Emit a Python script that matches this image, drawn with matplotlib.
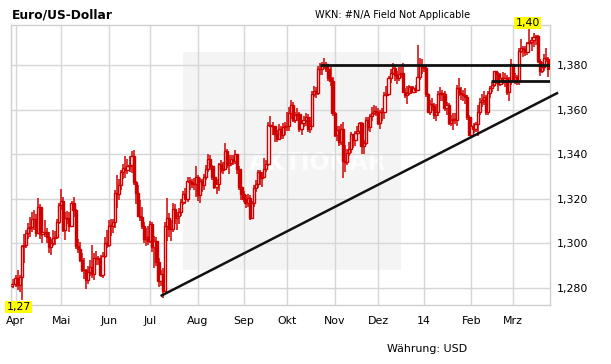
import numpy as np
import pandas as pd
import matplotlib
matplotlib.use("Agg")
import matplotlib.pyplot as plt
from matplotlib.patches import Rectangle

# ---------------- data (EUR/USD daily) ----------------
first_open = 1.2810
close = [
    # Mar 28-29 2013
    1.2818, 1.2820,
    # Apr
    1.2845, 1.2815, 1.2850, 1.2990, 1.2995, 1.3045, 1.3070, 1.3075, 1.3110, 1.3110,
    1.3045, 1.3165, 1.3040, 1.3050, 1.3050, 1.3030, 1.2985, 1.3000, 1.3025, 1.3030,
    1.3095, 1.3170,
    # May
    1.3190, 1.3060, 1.3115, 1.3110, 1.3080, 1.3180, 1.3150, 1.2990, 1.2975, 1.2925,
    1.2880, 1.2880, 1.2835, 1.2870, 1.2895, 1.2865, 1.2935, 1.2935, 1.2930, 1.2860,
    1.2945, 1.3000, 1.2995,
    # Jun
    1.3080, 1.3080, 1.3095, 1.3225, 1.3220, 1.3260, 1.3320, 1.3340, 1.3330, 1.3345,
    1.3350, 1.3390, 1.3275, 1.3225, 1.3125, 1.3120, 1.3080, 1.3020, 1.3030, 1.3010,
    # Jul
    1.3085, 1.2985, 1.3010, 1.2915, 1.2830, 1.2865, 1.2785, 1.3080, 1.3115, 1.3065,
    1.3065, 1.3155, 1.3115, 1.3125, 1.3140, 1.3185, 1.3220, 1.3200, 1.3280, 1.3275,
    1.3265, 1.3265, 1.3300,
    # Aug
    1.3215, 1.3280, 1.3260, 1.3300, 1.3335, 1.3380, 1.3345, 1.3300, 1.3255, 1.3265,
    1.3355, 1.3330, 1.3335, 1.3415, 1.3350, 1.3360, 1.3380, 1.3370, 1.3400, 1.3335,
    1.3255, 1.3220,
    # Sep
    1.3200, 1.3180, 1.3205, 1.3115, 1.3180, 1.3250, 1.3265, 1.3320, 1.3295, 1.3300,
    1.3335, 1.3355, 1.3530, 1.3525, 1.3525, 1.3490, 1.3470, 1.3515, 1.3485, 1.3520,
    1.3525,
    # Oct
    1.3525, 1.3585, 1.3620, 1.3555, 1.3575, 1.3580, 1.3515, 1.3540, 1.3555, 1.3565,
    1.3515, 1.3525, 1.3670, 1.3685, 1.3675, 1.3780, 1.3780, 1.3800, 1.3805, 1.3780,
    1.3740, 1.3730, 1.3585,
    # Nov
    1.3485, 1.3510, 1.3455, 1.3515, 1.3370, 1.3365, 1.3405, 1.3425, 1.3490, 1.3465,
    1.3495, 1.3505, 1.3540, 1.3435, 1.3450, 1.3555, 1.3520, 1.3570, 1.3585, 1.3595,
    1.3590,
    # Dec
    1.3540, 1.3590, 1.3590, 1.3665, 1.3670, 1.3740, 1.3765, 1.3785, 1.3755, 1.3740,
    1.3760, 1.3765, 1.3680, 1.3665, 1.3675, 1.3700, 1.3680, 1.3695, 1.3690, 1.3745,
    1.3800, 1.3790,
    # Jan 2014
    1.3785, 1.3670, 1.3590, 1.3625, 1.3615, 1.3575, 1.3590, 1.3670, 1.3675, 1.3670,
    1.3605, 1.3620, 1.3540, 1.3555, 1.3560, 1.3555, 1.3695, 1.3675, 1.3670, 1.3665,
    1.3655, 1.3565, 1.3485,
    # Feb
    1.3525, 1.3515, 1.3535, 1.3590, 1.3635, 1.3645, 1.3655, 1.3590, 1.3675, 1.3695,
    1.3710, 1.3775, 1.3760, 1.3715, 1.3740, 1.3735, 1.3740, 1.3680, 1.3730, 1.3805,
    # Mar
    1.3735, 1.3745, 1.3730, 1.3865, 1.3875, 1.3870, 1.3860, 1.3900, 1.3905, 1.3910,
    1.3925, 1.3930, 1.3820, 1.3775, 1.3790, 1.3830, 1.3825, 1.3780,
]
high = [
    1.2850, 1.2840,
    1.2860, 1.2880, 1.2860, 1.2995, 1.3040, 1.3060, 1.3090, 1.3120, 1.3140, 1.3150,
    1.3130, 1.3205, 1.3175, 1.3085, 1.3105, 1.3070, 1.3050, 1.3020, 1.3060, 1.3055,
    1.3110, 1.3180,
    1.3245, 1.3210, 1.3140, 1.3145, 1.3140, 1.3190, 1.3210, 1.3155, 1.3020, 1.3005,
    1.2955, 1.2935, 1.2885, 1.2900, 1.2925, 1.2995, 1.2955, 1.2965, 1.2945, 1.2950,
    1.2960, 1.3030, 1.3060,
    1.3105, 1.3110, 1.3110, 1.3240, 1.3305, 1.3290, 1.3330, 1.3355, 1.3390, 1.3380,
    1.3390, 1.3415, 1.3420, 1.3280, 1.3260, 1.3195, 1.3165, 1.3095, 1.3070, 1.3080,
    1.3100, 1.3095, 1.3035, 1.3030, 1.2935, 1.2880, 1.2890, 1.3095, 1.3205, 1.3135,
    1.3105, 1.3180, 1.3175, 1.3140, 1.3160, 1.3200, 1.3235, 1.3250, 1.3300, 1.3300,
    1.3290, 1.3295, 1.3345,
    1.3305, 1.3295, 1.3290, 1.3310, 1.3350, 1.3400, 1.3395, 1.3350, 1.3310, 1.3290,
    1.3360, 1.3375, 1.3365, 1.3450, 1.3425, 1.3395, 1.3395, 1.3395, 1.3420, 1.3395,
    1.3345, 1.3260,
    1.3235, 1.3215, 1.3220, 1.3215, 1.3190, 1.3260, 1.3285, 1.3330, 1.3330, 1.3320,
    1.3385, 1.3375, 1.3545, 1.3570, 1.3545, 1.3525, 1.3510, 1.3535, 1.3525, 1.3540,
    1.3545,
    1.3590, 1.3610, 1.3645, 1.3635, 1.3590, 1.3605, 1.3590, 1.3555, 1.3570, 1.3585,
    1.3580, 1.3565, 1.3685, 1.3705, 1.3700, 1.3795, 1.3810, 1.3815, 1.3830, 1.3815,
    1.3800, 1.3790, 1.3745,
    1.3590, 1.3525, 1.3525, 1.3535, 1.3545, 1.3440, 1.3425, 1.3455, 1.3500, 1.3490,
    1.3505, 1.3525, 1.3545, 1.3545, 1.3465, 1.3565, 1.3565, 1.3580, 1.3610, 1.3620,
    1.3615,
    1.3605, 1.3600, 1.3605, 1.3680, 1.3705, 1.3750, 1.3780, 1.3810, 1.3795, 1.3775,
    1.3790, 1.3790, 1.3810, 1.3695, 1.3705, 1.3710, 1.3705, 1.3705, 1.3710, 1.3890,
    1.3830, 1.3825,
    1.3795, 1.3795, 1.3675, 1.3645, 1.3650, 1.3630, 1.3625, 1.3685, 1.3700, 1.3690,
    1.3685, 1.3635, 1.3630, 1.3575, 1.3585, 1.3585, 1.3710, 1.3740, 1.3700, 1.3690,
    1.3695, 1.3665, 1.3575,
    1.3535, 1.3540, 1.3545, 1.3620, 1.3650, 1.3670, 1.3685, 1.3665, 1.3685, 1.3705,
    1.3725, 1.3775, 1.3775, 1.3770, 1.3765, 1.3770, 1.3765, 1.3755, 1.3745, 1.3825,
    1.3790, 1.3765, 1.3755, 1.3875, 1.3915, 1.3885, 1.3885, 1.3905, 1.3965, 1.3925,
    1.3945, 1.3935, 1.3935, 1.3825, 1.3815, 1.3850, 1.3875, 1.3835,
]
low = [
    1.2750, 1.2800,
    1.2805, 1.2790, 1.2780, 1.2745, 1.2910, 1.2980, 1.3020, 1.3030, 1.3050, 1.3060,
    1.3030, 1.3040, 1.3020, 1.3000, 1.3030, 1.3000, 1.2955, 1.2950, 1.2990, 1.2995,
    1.3020, 1.3085,
    1.3150, 1.3050, 1.3015, 1.3085, 1.3050, 1.3075, 1.3120, 1.2975, 1.2955, 1.2915,
    1.2870, 1.2840, 1.2795, 1.2820, 1.2855, 1.2845, 1.2835, 1.2905, 1.2905, 1.2850,
    1.2845, 1.2935, 1.2980,
    1.2985, 1.3035, 1.3045, 1.3070, 1.3160, 1.3195, 1.3240, 1.3290, 1.3295, 1.3310,
    1.3320, 1.3315, 1.3260, 1.3175, 1.3120, 1.3100, 1.3065, 1.3000, 1.2990, 1.2995,
    1.3000, 1.2960, 1.2890, 1.2900, 1.2805, 1.2810, 1.2755, 1.2780, 1.3010, 1.3030,
    1.3010, 1.3050, 1.3085, 1.3060, 1.3085, 1.3125, 1.3170, 1.3175, 1.3185, 1.3240,
    1.3250, 1.3240, 1.3210,
    1.3190, 1.3180, 1.3230, 1.3240, 1.3285, 1.3320, 1.3330, 1.3285, 1.3245, 1.3220,
    1.3235, 1.3315, 1.3310, 1.3330, 1.3340, 1.3310, 1.3345, 1.3350, 1.3355, 1.3310,
    1.3240, 1.3195,
    1.3185, 1.3160, 1.3165, 1.3105, 1.3110, 1.3165, 1.3230, 1.3250, 1.3260, 1.3255,
    1.3310, 1.3320, 1.3345, 1.3505, 1.3485, 1.3455, 1.3455, 1.3465, 1.3470, 1.3470,
    1.3485,
    1.3505, 1.3505, 1.3560, 1.3545, 1.3540, 1.3550, 1.3500, 1.3485, 1.3520, 1.3525,
    1.3500, 1.3495, 1.3525, 1.3655, 1.3650, 1.3665, 1.3755, 1.3755, 1.3780, 1.3770,
    1.3730, 1.3705, 1.3570,
    1.3475, 1.3460, 1.3435, 1.3440, 1.3295, 1.3320, 1.3350, 1.3390, 1.3405, 1.3430,
    1.3435, 1.3465, 1.3490, 1.3400, 1.3400, 1.3440, 1.3505, 1.3500, 1.3550, 1.3575,
    1.3570,
    1.3530, 1.3515, 1.3550, 1.3560, 1.3620, 1.3665, 1.3720, 1.3755, 1.3730, 1.3715,
    1.3730, 1.3740, 1.3675, 1.3650, 1.3625, 1.3665, 1.3670, 1.3675, 1.3675, 1.3690,
    1.3735, 1.3760,
    1.3770, 1.3655, 1.3585, 1.3575, 1.3595, 1.3560, 1.3550, 1.3570, 1.3640, 1.3640,
    1.3595, 1.3575, 1.3530, 1.3525, 1.3510, 1.3535, 1.3525, 1.3660, 1.3645, 1.3640,
    1.3625, 1.3555, 1.3480,
    1.3475, 1.3495, 1.3500, 1.3480, 1.3575, 1.3610, 1.3620, 1.3575, 1.3575, 1.3650,
    1.3680, 1.3700, 1.3715, 1.3685, 1.3705, 1.3715, 1.3700, 1.3665, 1.3640, 1.3710,
    1.3725, 1.3715, 1.3710, 1.3710, 1.3855, 1.3835, 1.3840, 1.3845, 1.3895, 1.3865,
    1.3880, 1.3890, 1.3810, 1.3750, 1.3765, 1.3775, 1.3815, 1.3745,
]
start_date = "2013-03-28"
month_labels = ["Apr", "Mai", "Jun", "Jul", "Aug", "Sep", "Okt", "Nov", "Dez", "14", "Feb", "Mrz"]
month_starts = ["2013-04-01", "2013-05-01", "2013-06-03", "2013-07-01", "2013-08-01", "2013-09-02",
                "2013-10-01", "2013-11-01", "2013-12-02", "2014-01-01", "2014-02-03", "2014-03-03"]
y_ticks = [1.28, 1.30, 1.32, 1.34, 1.36, 1.38]
resistance_upper = 1.380
resistance_lower = 1.3728
trend_start = 1.2764
trend_end = 1.3676
min_label, max_label = "1,27", "1,40"

# ---------------- derived ----------------
close = np.array(close); high = np.array(high); low = np.array(low)
n = len(close)
opn = np.r_[first_open, close[:-1]]
dates = pd.bdate_range(start_date, periods=n)
idx = np.arange(n)
month_pos = [dates.get_loc(pd.Timestamp(d)) for d in month_starts]

RED = "#d00000"
W, H = 611, 364
fig = plt.figure(figsize=(W / 100, H / 100), dpi=100)
ax = fig.add_axes([11 / W, 1 - 305 / H, 539 / W, 280 / H])
ax.set_xlim(-0.2, 259.9)
ax.set_ylim(1.27238, 1.39794)

# watermark panel
ax.add_patch(Rectangle((183 / W, 1 - 270 / H), 218 / W, 218 / H, transform=fig.transFigure,
                       facecolor="#f4f4f4", edgecolor="none", zorder=0.1))
ax.text(318 / W, 1 - 163 / H, "AKTIONÄR", transform=fig.transFigure, ha="center", va="center",
        fontsize=17, fontweight="bold", color="#fdfdfd", zorder=0.15)

# grid
ax.set_axisbelow(True)
ax.set_xticks(month_pos)
ax.set_xticklabels(month_labels)
ax.set_yticks(y_ticks)
ax.set_yticklabels([f"{v:.3f}".replace(".", ",") for v in y_ticks])
ax.grid(True, color="#d6d6d6", linewidth=1.0)
ax.yaxis.tick_right()
ax.tick_params(axis="both", length=0, labelsize=7.9, colors="black")
ax.tick_params(axis="y", pad=5)
ax.tick_params(axis="x", pad=8)
for s in ax.spines.values():
    s.set_color("#cfcfcf")
    s.set_linewidth(1.0)

# candles
ax.vlines(idx, low, high, color=RED, linewidth=1.1, zorder=2)
for i in idx:
    o, c = opn[i], close[i]
    bottom = min(o, c)
    h = max(abs(c - o), 0.00015)
    up = c >= o
    ax.add_patch(Rectangle((i - 0.55, bottom), 1.1, h, facecolor="white" if up else RED,
                           edgecolor=RED, linewidth=1.0, zorder=3))

# resistance lines and trend line
ax.plot([149, 259.9], [resistance_upper, resistance_upper], color="#111111", lw=2.0,
        solid_capstyle="butt", zorder=4)
ax.plot([231.6, 259.9], [resistance_lower, resistance_lower], color="#111111", lw=2.0,
        solid_capstyle="butt", zorder=4)
ax.plot([72.0, 263.8], [trend_start, trend_end], color="#111111", lw=1.8,
        solid_capstyle="butt", zorder=4, clip_on=False)

# min / max labels
fig.text(18.5 / W, 1 - 307 / H, min_label, ha="center", va="center", fontsize=7.9,
         bbox=dict(boxstyle="square,pad=0.12", facecolor="#ffff00", edgecolor="none"))
fig.text(527.5 / W, 1 - 23 / H, max_label, ha="center", va="center", fontsize=7.9,
         bbox=dict(boxstyle="square,pad=0.12", facecolor="#ffff00", edgecolor="none"))

# texts
fig.text(12 / W, 1 - 18 / H, "Euro/US-Dollar", ha="left", va="baseline", fontsize=8.8,
         fontweight="bold")
fig.text(470 / W, 1 - 18 / H, "WKN: #N/A Field Not Applicable", ha="right", va="baseline",
         fontsize=7.0)
fig.text(427 / W, 1 - 351.5 / H, "Währung: USD", ha="center", va="baseline", fontsize=7.9)

fig.savefig("out.png", dpi=100)
